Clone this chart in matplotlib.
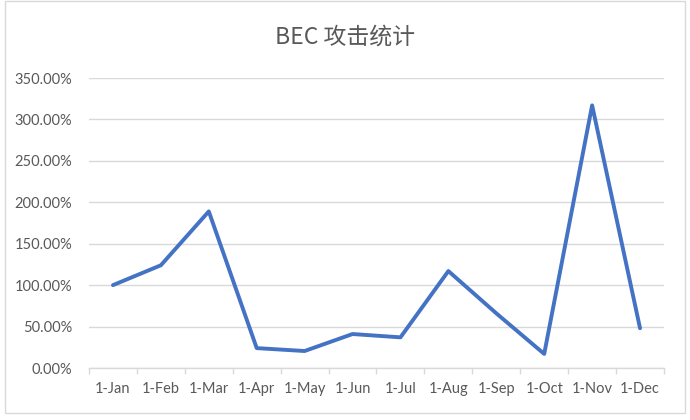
import matplotlib
matplotlib.use("Agg")
import matplotlib.pyplot as plt
from matplotlib.patches import Rectangle
from matplotlib.ticker import FuncFormatter, FixedLocator

plt.rcParams['font.family'] = ['Lato', 'Noto Sans CJK SC', 'DejaVu Sans']

title = "BEC 攻击统计"
months = ["1-Jan", "1-Feb", "1-Mar", "1-Apr", "1-May", "1-Jun",
          "1-Jul", "1-Aug", "1-Sep", "1-Oct", "1-Nov", "1-Dec"]
values = [100, 124, 189, 24, 20.5, 41, 37, 117, 66, 17, 317, 48]
yticks = [0, 50, 100, 150, 200, 250, 300, 350]

grey_text = "#595959"
grid_col = "#d9d9d9"
line_col = "#4472C4"

fig = plt.figure(figsize=(6.9, 4.2), dpi=100)
fig.patch.set_facecolor("white")
# chart area border
fig.patches.append(Rectangle((5/690, 7/420), 680/690, 412/420, transform=fig.transFigure,
                             fill=False, edgecolor=grid_col, linewidth=1.0))

ax = fig.add_axes([89/690, 1 - 368/420, 575/690, (368 - 78)/420])
x = list(range(len(months)))
ax.plot(x, values, color=line_col, linewidth=2.8, solid_joinstyle='round',
        solid_capstyle='round', zorder=3)

ax.set_xlim(-0.5, len(months) - 0.5)
ax.set_ylim(yticks[0], yticks[-1])
ax.set_yticks(yticks)
ax.yaxis.set_major_formatter(FuncFormatter(lambda v, p: f"{v:.2f}%"))
ax.grid(axis='y', color=grid_col, linewidth=1.0, zorder=0)
ax.set_axisbelow(True)

ax.set_xticks(x)
ax.set_xticklabels(months)
ax.xaxis.set_minor_locator(FixedLocator([i - 0.5 for i in range(len(months) + 1)]))
ax.tick_params(axis='x', which='major', length=0, pad=10, labelsize=10.5, labelcolor=grey_text)
ax.tick_params(axis='x', which='minor', length=4, width=1, color=grid_col, direction='out')
ax.tick_params(axis='y', length=0, pad=12, labelsize=10.5, labelcolor=grey_text)

for s in ['top', 'right', 'left']:
    ax.spines[s].set_visible(False)
ax.spines['bottom'].set_color(grid_col)
ax.spines['bottom'].set_linewidth(1.0)

fig.text(0.5, 1 - 37/420, title, ha='center', va='center', fontsize=16.5,
         color=grey_text, family=['Noto Sans CJK SC', 'DejaVu Sans'])

fig.savefig("out.png", dpi=100, facecolor="white")
